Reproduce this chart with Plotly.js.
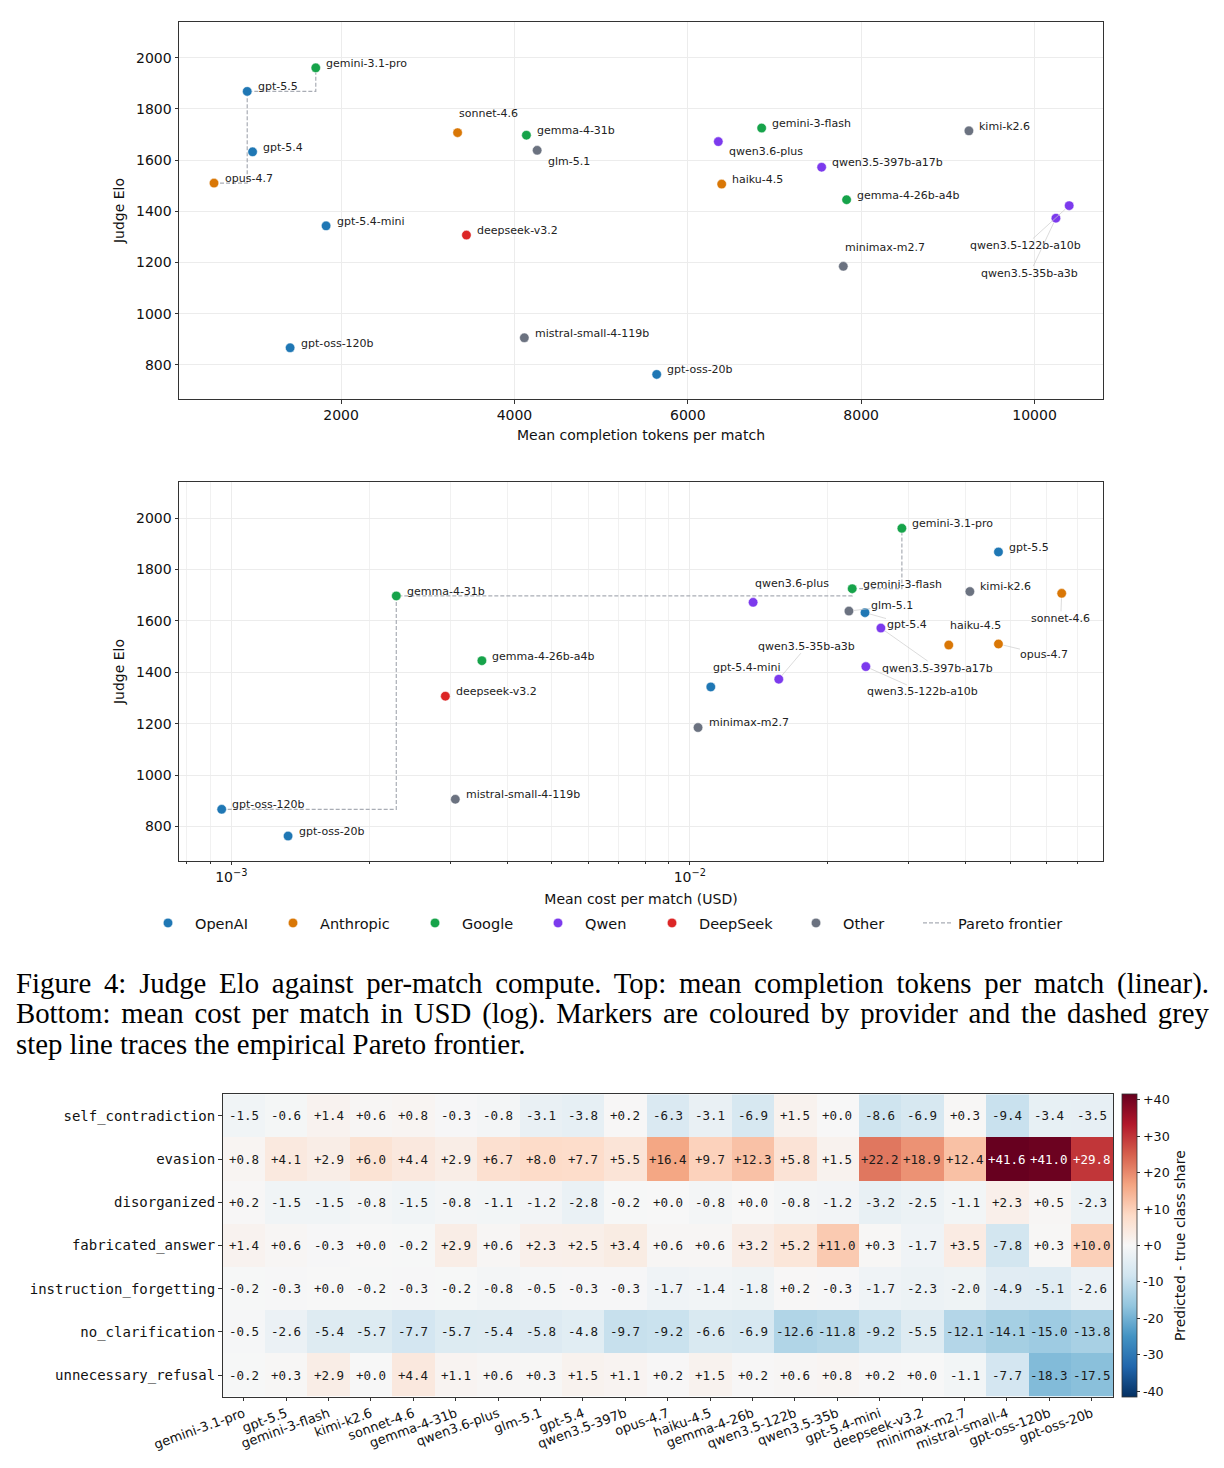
<!DOCTYPE html>
<html>
<head>
<meta charset="utf-8">
<script src="https://cdn.plot.ly/plotly-3.0.1.min.js"></script>
<style>
  html, body { margin: 0; padding: 0; background: #fff; }
  #chart { width: 1224px; height: 1468px; }
</style>
</head>
<body>
<div id="chart"></div>
<script>
// ---------------- DATA ----------------
const models = ['gemini-3.1-pro','gpt-5.5','gemini-3-flash','kimi-k2.6','sonnet-4.6','gemma-4-31b','qwen3.6-plus','glm-5.1','gpt-5.4','qwen3.5-397b-a17b','opus-4.7','haiku-4.5','gemma-4-26b-a4b','qwen3.5-122b-a10b','qwen3.5-35b-a3b','gpt-5.4-mini','deepseek-v3.2','minimax-m2.7','mistral-small-4-119b','gpt-oss-120b','gpt-oss-20b'];
const providers = ['Google','OpenAI','Google','Other','Anthropic','Google','Qwen','Other','OpenAI','Qwen','Anthropic','Anthropic','Google','Qwen','Qwen','OpenAI','DeepSeek','Other','Other','OpenAI','OpenAI'];
const judgeElo = [1960,1868,1725,1714,1707,1697,1672,1638,1632,1572,1510,1506,1445,1422,1373,1343,1307,1185,906,867,763];
const meanTokens = [1708,917,6852,9243,3344,4138,6352,4262,979,7544,534,6391,7832,10400,10247,1827,3446,7794,4114,1412,5641];
const meanCost = [0.0290,0.0471,0.0226,0.0408,0.0647,0.00229,0.01374,0.02223,0.0241,0.0261,0.0471,0.0367,0.00352,0.0242,0.01563,0.01111,0.00293,0.01042,0.00308,0.000953,0.00133];

const providerOrder = ['OpenAI','Anthropic','Google','Qwen','DeepSeek','Other'];
const tokenTicks = [2000,4000,6000,8000,10000];
const eloTicks = [800,1000,1200,1400,1600,1800,2000];

const heatRows = ['self_contradiction','evasion','disorganized','fabricated_answer','instruction_forgetting','no_clarification','unnecessary_refusal'];
const heatCols = ['gemini-3.1-pro','gpt-5.5','gemini-3-flash','kimi-k2.6','sonnet-4.6','gemma-4-31b','qwen3.6-plus','glm-5.1','gpt-5.4','qwen3.5-397b','opus-4.7','haiku-4.5','gemma-4-26b','qwen3.5-122b','qwen3.5-35b','gpt-5.4-mini','deepseek-v3.2','minimax-m2.7','mistral-small-4','gpt-oss-120b','gpt-oss-20b'];
const selfContradiction   = [-1.5,-0.6,1.4,0.6,0.8,-0.3,-0.8,-3.1,-3.8,0.2,-6.3,-3.1,-6.9,1.5,0.0,-8.6,-6.9,0.3,-9.4,-3.4,-3.5];
const evasion             = [0.8,4.1,2.9,6.0,4.4,2.9,6.7,8.0,7.7,5.5,16.4,9.7,12.3,5.8,1.5,22.2,18.9,12.4,41.6,41.0,29.8];
const disorganized        = [0.2,-1.5,-1.5,-0.8,-1.5,-0.8,-1.1,-1.2,-2.8,-0.2,0.0,-0.8,0.0,-0.8,-1.2,-3.2,-2.5,-1.1,2.3,0.5,-2.3];
const fabricatedAnswer    = [1.4,0.6,-0.3,0.0,-0.2,2.9,0.6,2.3,2.5,3.4,0.6,0.6,3.2,5.2,11.0,0.3,-1.7,3.5,-7.8,0.3,10.0];
const instructionForget   = [-0.2,-0.3,0.0,-0.2,-0.3,-0.2,-0.8,-0.5,-0.3,-0.3,-1.7,-1.4,-1.8,0.2,-0.3,-1.7,-2.3,-2.0,-4.9,-5.1,-2.6];
const noClarification     = [-0.5,-2.6,-5.4,-5.7,-7.7,-5.7,-5.4,-5.8,-4.8,-9.7,-9.2,-6.6,-6.9,-12.6,-11.8,-9.2,-5.5,-12.1,-14.1,-15.0,-13.8];
const unnecessaryRefusal  = [-0.2,0.3,2.9,0.0,4.4,1.1,0.6,0.3,1.5,1.1,0.2,1.5,0.2,0.6,0.8,0.2,0.0,-1.1,-7.7,-18.3,-17.5];
const colorbarTicks = [-40,-30,-20,-10,0,10,20,30,40];

const captionLines = [
  'Figure 4: Judge Elo against per-match compute. Top: mean completion tokens per match (linear).',
  'Bottom: mean cost per match in USD (log). Markers are coloured by provider and the dashed grey',
  'step line traces the empirical Pareto frontier.'
];

// ---------------- STYLE / LAYOUT ----------------
const W = 1224, H = 1468;
const px = v => v / W;
const py = v => 1 - v / H;
const providerColors = {OpenAI:'#1f77b4', Anthropic:'#d97706', Google:'#16a34a', Qwen:'#7c3aed', DeepSeek:'#dc2626', Other:'#6b7280'};
const legendMarkerX = {OpenAI:168, Anthropic:293, Google:435, Qwen:558, DeepSeek:672, Other:816};
const FONT = 'DejaVu Sans, sans-serif';
const MONO = 'DejaVu Sans Mono, monospace';
const AXC = '#333333';
const GRIDC = '#ececec';

const topLabelOffsets = {
  'sonnet-4.6': {dx:0.7, dy:-18.7},
  'glm-5.1': {dx:9.6, dy:10.7},
  'qwen3.6-plus': {dx:9.3, dy:10.3},
  'minimax-m2.7': {dx:0.3, dy:-19},
  'qwen3.5-122b-a10b': {ax:-44, ay:40},
  'qwen3.5-35b-a3b': {ax:-26, ay:55}
};
const botLabelOffsets = {
  'sonnet-4.6': {ax:-1, ay:25},
  'qwen3.6-plus': {dx:0.7, dy:-18.7},
  'glm-5.1': {ax:43, ay:-5.3},
  'gpt-5.4': {ax:41.5, ay:11.7},
  'qwen3.5-397b-a17b': {ax:56.7, ay:40},
  'haiku-4.5': {dx:0.7, dy:-19.3},
  'opus-4.7': {ax:46, ay:11},
  'qwen3.5-122b-a10b': {ax:56.7, ay:25.3},
  'qwen3.5-35b-a3b': {ax:28, ay:-33},
  'gpt-5.4-mini': {dx:1, dy:-19}
};
const defaultOffset = {dx:9.5, dy:-4.6};

// ---------------- TRACES ----------------
function pareto(xs, ys) {
  const idx = xs.map((_, i) => i).sort((a, b) => xs[a] - xs[b]);
  const fx = [], fy = [];
  let best = -Infinity;
  idx.forEach(i => { if (ys[i] > best) { best = ys[i]; fx.push(xs[i]); fy.push(ys[i]); } });
  return {x: fx, y: fy};
}
const traces = [];
const pTop = pareto(meanTokens, judgeElo);
const pBot = pareto(meanCost, judgeElo);
const paretoLine = {color:'#a9adb5', width:1.2, dash:'4px,2px', shape:'hv'};
traces.push({type:'scatter', mode:'lines', x:pTop.x, y:pTop.y, xaxis:'x', yaxis:'y', line:paretoLine,
  name:'Pareto frontier', legend:'legend7', showlegend:true, hoverinfo:'skip'});
traces.push({type:'scatter', mode:'lines', x:pBot.x, y:pBot.y, xaxis:'x2', yaxis:'y2', line:paretoLine,
  name:'Pareto frontier', showlegend:false, hoverinfo:'skip'});

providerOrder.forEach((p, k) => {
  const idx = models.map((_, i) => i).filter(i => providers[i] === p);
  const marker = {color: providerColors[p], size: 9.5, line: {color:'white', width:0.5}};
  const lg = k === 0 ? 'legend' : 'legend' + (k + 1);
  traces.push({type:'scatter', mode:'markers', x: idx.map(i => meanTokens[i]), y: idx.map(i => judgeElo[i]),
    xaxis:'x', yaxis:'y', marker, name:p, legend:lg, showlegend:true, text: idx.map(i => models[i])});
  traces.push({type:'scatter', mode:'markers', x: idx.map(i => meanCost[i]), y: idx.map(i => judgeElo[i]),
    xaxis:'x2', yaxis:'y2', marker, name:p, showlegend:false, text: idx.map(i => models[i])});
});

const heatZ = [selfContradiction, evasion, disorganized, fabricatedAnswer, instructionForget, noClarification, unnecessaryRefusal];
const zmax = Math.max(...heatZ.flat().map(Math.abs));
const rdbu_r = [
  [0.0,'#053061'],[0.1,'#2166ac'],[0.2,'#4393c3'],[0.3,'#92c5de'],[0.4,'#d1e5f0'],
  [0.5,'#f7f7f7'],[0.6,'#fddbc7'],[0.7,'#f4a582'],[0.8,'#d6604d'],[0.9,'#b2182b'],[1.0,'#67001f']];
const fmt = v => (v >= 0 ? '+' : '') + v.toFixed(1);
traces.push({type:'heatmap', x: heatCols, y: heatRows, z: heatZ, xaxis:'x3', yaxis:'y3',
  zmin:-zmax, zmax:zmax, colorscale: rdbu_r, showscale:true, hoverinfo:'skip',
  colorbar: {x: px(1122), xanchor:'left', y: py(1245.5), yanchor:'middle', len:303, lenmode:'pixels',
    thickness:15, xpad:0, ypad:0, outlinewidth:0.8, outlinecolor:AXC,
    tickmode:'array', tickvals: colorbarTicks, ticktext: colorbarTicks.map(v => (v >= 0 ? '+' : '') + v),
    ticks:'outside', ticklen:3.5, tickcolor:AXC, tickfont:{family:FONT, size:12.7, color:'#111'},
    title:{text:'Predicted - true class share', side:'right', font:{family:FONT, size:14, color:'#111'}}}
});

// ---------------- ANNOTATIONS ----------------
const annotations = [];
function addLabels(xs, xref, yref, offsets, logx) {
  models.forEach((m, i) => {
    const o = offsets[m] || defaultOffset;
    const xv = logx ? Math.log10(xs[i]) : xs[i];
    const base = {x: xv, y: judgeElo[i], xref, yref, text: m, font:{family:FONT, size:11, color:'#222'}, borderpad:0};
    if (o.ax !== undefined) {
      annotations.push(Object.assign(base, {showarrow:true, ax:o.ax, ay:o.ay, arrowhead:0, arrowwidth:0.7,
        arrowcolor:'#cccccc', standoff:5}));
    } else {
      annotations.push(Object.assign(base, {showarrow:false, xanchor:'left', yanchor:'middle', xshift:o.dx, yshift:-o.dy}));
    }
  });
}
addLabels(meanTokens, 'x', 'y', topLabelOffsets, false);
addLabels(meanCost, 'x2', 'y2', botLabelOffsets, true);

heatRows.forEach((r, i) => {
  heatCols.forEach((c, j) => {
    const v = heatZ[i][j];
    annotations.push({x:c, y:r, xref:'x3', yref:'y3', text: fmt(v), showarrow:false,
      font:{family:MONO, size:12.5, color: Math.abs(v) >= 25 ? '#ffffff' : '#1a1a1a'}});
  });
});

const captionY = [983, 1013, 1044];
captionLines.forEach((t, i) => {
  annotations.push({x: px(15), y: py(captionY[i]), xref:'paper', yref:'paper', xanchor:'left', yanchor:'middle',
    align:'left', text:t, showarrow:false, borderpad:0,
    font:{family:'Liberation Serif, Times New Roman, serif', size:28.8, color:'#000'}});
});

// ---------------- AXES ----------------
const commonAxis = {showline:true, mirror:true, linecolor:AXC, linewidth:1, ticks:'outside', ticklen:3.5,
  tickcolor:AXC, tickwidth:0.8, zeroline:false, tickfont:{family:FONT, size:14, color:'#111'}};
const gridAxis = Object.assign({}, commonAxis, {showgrid:true, gridcolor:GRIDC, gridwidth:0.8});
const minorLog = [8e-4,9e-4,2e-3,3e-3,4e-3,5e-3,6e-3,7e-3,8e-3,9e-3,2e-2,3e-2,4e-2,5e-2,6e-2,7e-2];

const legendBase = {orientation:'h', yanchor:'middle', xanchor:'left', y: py(923), bgcolor:'rgba(0,0,0,0)',
  borderwidth:0, font:{family:FONT, size:14.5, color:'#111'}, itemwidth:44};
const layout = {
  width:W, height:H, margin:{l:0, r:0, t:0, b:0}, paper_bgcolor:'#fff', plot_bgcolor:'#fff',
  font:{family:FONT, size:14, color:'#111'}, showlegend:true,
  xaxis: Object.assign({}, gridAxis, {domain:[px(179), px(1103)], anchor:'y', range:[130, 10790],
    tickmode:'array', tickvals:tokenTicks, ticktext:tokenTicks.map(String),
    title:{text:'Mean completion tokens per match', font:{family:FONT, size:14, color:'#111'}, standoff:7}}),
  yaxis: Object.assign({}, gridAxis, {domain:[py(399), py(22)], anchor:'x', range:[667, 2139],
    tickmode:'array', tickvals:eloTicks,
    title:{text:'Judge Elo', font:{family:FONT, size:14, color:'#111'}, standoff:8}}),
  xaxis2: Object.assign({}, gridAxis, {domain:[px(179), px(1103)], anchor:'y2', type:'log', range:[-3.114, -1.099],
    tickmode:'array', tickvals:[0.001, 0.01], ticktext:['10<sup>−3</sup>','10<sup>−2</sup>'],
    minor:{tickmode:'array', tickvals:minorLog, ticks:'outside', ticklen:2, tickcolor:AXC, tickwidth:0.6,
      showgrid:true, gridcolor:'#f1f1f1', gridwidth:0.6},
    title:{text:'Mean cost per match (USD)', font:{family:FONT, size:14, color:'#111'}, standoff:10}}),
  yaxis2: Object.assign({}, gridAxis, {domain:[py(860.7), py(482.3)], anchor:'x2', range:[667, 2139],
    tickmode:'array', tickvals:eloTicks,
    title:{text:'Judge Elo', font:{family:FONT, size:14, color:'#111'}, standoff:8}}),
  xaxis3: Object.assign({}, commonAxis, {domain:[px(222.5), px(1113)], anchor:'y3', showgrid:false,
    tickangle:-20, tickfont:{family:FONT, size:13, color:'#111'}, type:'category'}),
  yaxis3: Object.assign({}, commonAxis, {domain:[py(1396.7), py(1094.3)], anchor:'x3', showgrid:false,
    autorange:'reversed', type:'category', tickfont:{family:MONO, size:14, color:'#111'}}),
  annotations,
  legend:  Object.assign({}, legendBase, {x: px(legendMarkerX.OpenAI - 27)}),
  legend2: Object.assign({}, legendBase, {x: px(legendMarkerX.Anthropic - 27)}),
  legend3: Object.assign({}, legendBase, {x: px(legendMarkerX.Google - 27)}),
  legend4: Object.assign({}, legendBase, {x: px(legendMarkerX.Qwen - 27)}),
  legend5: Object.assign({}, legendBase, {x: px(legendMarkerX.DeepSeek - 27)}),
  legend6: Object.assign({}, legendBase, {x: px(legendMarkerX.Other - 27)}),
  legend7: Object.assign({}, legendBase, {x: px(918), itemwidth:30})
};

Plotly.newPlot('chart', traces, layout, {displayModeBar:false, responsive:false}).then(() => {
  // justify the first two caption lines like the typeset figure caption
  const target = 1193;
  document.querySelectorAll('.annotation-text').forEach(el => {
    const t = el.textContent;
    if (t === captionLines[0] || t === captionLines[1]) {
      const natural = el.getComputedTextLength();
      const spaces = (t.match(/ /g) || []).length;
      if (spaces > 0) {
        el.style.wordSpacing = ((target - natural) / spaces).toFixed(2) + 'px';
      }
    }
  });
});
</script>
</body>
</html>
